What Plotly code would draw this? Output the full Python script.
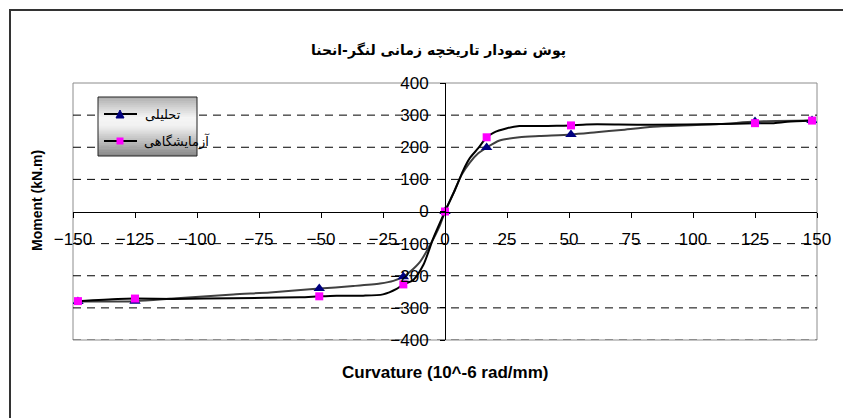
import plotly.graph_objects as go

# ---------------- data ----------------
title_text = "پوش نمودار تاریخچه زمانی لنگر-انحنا"
x_title = "Curvature (10^-6 rad/mm)"
y_title = "Moment (kN.m)"
series_names = ["تحلیلی", "آزمایشگاهی"]

x_ticks = [-150, -125, -100, -75, -50, -25, 0, 25, 50, 75, 100, 125, 150]
y_ticks = [-400, -300, -200, -100, 0, 100, 200, 300, 400]
grid_vals = [-300, -200, -100, 100, 200, 300]

# analytical (تحلیلی) curve
ana_x = [-148, -125, -109.6, -85.4, -70.6, -50.7, -37, -26.2, -20.8, -16.8, -14, -10, -6, -2,
         0, 3.4, 6.7, 10, 13.4, 16.8, 22, 30, 38, 50.8, 61, 71, 84, 111, 125, 148]
ana_y = [-280, -279, -271, -258, -252, -240, -232, -224, -216, -203, -187, -156, -104, -42,
         0, 57, 114, 152, 181, 199, 221, 231, 235, 240, 247, 254, 264, 272, 280, 283]
ana_mx = [-148, -125, -50.7, -16.8, 0, 16.8, 50.8, 125, 148]
ana_my = [-280, -279, -240, -203, 0, 199, 240, 280, 283]

# experimental (آزمایشگاهی) curve
exp_x = [-148, -132, -125, -109.6, -85.4, -58.5, -50.7, -43.7, -33, -25, -19.5, -16.8, -12.8, -8.7, -4.7,
         0, 4, 7.4, 10, 13.4, 16.8, 19.5, 25, 30, 38, 45, 50.8, 57, 70, 84, 111, 125, 132, 138, 148]
exp_y = [-279, -272, -271, -272, -270, -267, -264, -262, -262, -258, -241, -227, -213, -166, -83,
         0, 67, 129, 166, 197, 231, 245, 259, 266, 266, 267, 268, 271, 271, 270, 272, 275, 275, 279, 283]
exp_mx = [-148, -125, -50.7, -16.8, 0, 16.8, 50.8, 125, 148]
exp_my = [-279, -271, -264, -227, 0, 231, 268, 275, 283]

# ---------------- layout geometry ----------------
W, H = 843, 418
L, R, T, B = 73, 817, 83, 340


def px(x):
    return (x - L) / (R - L)


def py(y):
    return (B - y) / (B - T)


fig = go.Figure()

fig.add_trace(go.Scatter(x=ana_x, y=ana_y, mode="lines", line=dict(color="#404040", width=2, shape="spline", smoothing=0.7),
                         showlegend=False, hoverinfo="skip"))
fig.add_trace(go.Scatter(x=exp_x, y=exp_y, mode="lines", line=dict(color="#000000", width=2, shape="spline", smoothing=0.7),
                         showlegend=False, hoverinfo="skip"))
fig.add_trace(go.Scatter(x=ana_mx, y=ana_my, mode="markers", name=series_names[0],
                         marker=dict(symbol="triangle-up", size=10, color="#000080"), showlegend=False))
fig.add_trace(go.Scatter(x=exp_mx, y=exp_my, mode="markers", name=series_names[1],
                         marker=dict(symbol="square", size=8, color="#FF00FF"), showlegend=False))

shapes = []
# outer chart border
shapes.append(dict(type="rect", xref="paper", yref="paper", x0=px(10), x1=px(900), y0=py(10), y1=py(480),
                   line=dict(color="#333333", width=2), layer="below"))
# plot area border
shapes.append(dict(type="rect", xref="paper", yref="paper", x0=0, x1=1, y0=0, y1=1,
                   line=dict(color="#8c8c8c", width=1), layer="below"))
# dashed grid lines
for g in grid_vals:
    shapes.append(dict(type="line", xref="paper", yref="y", x0=0, x1=1, y0=g, y1=g,
                       line=dict(color="#000000", width=1, dash="8px,6px"), layer="below"))
shapes.append(dict(type="line", xref="paper", yref="y", x0=0, x1=1, y0=y_ticks[0], y1=y_ticks[0],
                   line=dict(color="#555555", width=1, dash="8px,6px"), layer="below"))

# legend box with vertical gradient
lx0, lx1, ly0, ly1 = 98, 197, 97, 156
n = 30
stops = [(0.0, 175), (0.35, 245), (0.5, 240), (1.0, 135)]


def grad(t):
    for (t0, c0), (t1, c1) in zip(stops[:-1], stops[1:]):
        if t0 <= t <= t1:
            return c0 + (c1 - c0) * (t - t0) / (t1 - t0)
    return stops[-1][1]


for i in range(n):
    t = (i + 0.5) / n
    c = int(round(grad(t)))
    ya = ly0 + (ly1 - ly0) * i / n
    yb = ly0 + (ly1 - ly0) * (i + 1) / n + 0.6
    shapes.append(dict(type="rect", xref="paper", yref="paper", x0=px(lx0), x1=px(lx1), y0=py(ya), y1=py(min(yb, ly1)),
                       line=dict(width=0), fillcolor=f"rgb({c},{c},{c})"))
shapes.append(dict(type="rect", xref="paper", yref="paper", x0=px(lx0), x1=px(lx1), y0=py(ly0), y1=py(ly1),
                   line=dict(color="#222222", width=1)))
# legend samples
for yy in (114, 141):
    shapes.append(dict(type="line", xref="paper", yref="paper", x0=px(104), x1=px(137), y0=py(yy), y1=py(yy),
                       line=dict(color="#000000", width=2)))
shapes.append(dict(type="path", xref="paper", yref="paper",
                   path=f"M {px(116)} {py(118)} L {px(124)} {py(118)} L {px(120)} {py(110)} Z",
                   fillcolor="#000080", line=dict(color="#000080", width=1)))
shapes.append(dict(type="rect", xref="paper", yref="paper", x0=px(116.5), x1=px(123.5), y0=py(137.5), y1=py(144.5),
                   fillcolor="#FF00FF", line=dict(width=0)))

annotations = [
    dict(text=f"<b>{title_text}</b>", xref="paper", yref="paper", x=px(438), y=py(50), showarrow=False,
         font=dict(family="DejaVu Sans", size=14, color="#000000"), xanchor="center", yanchor="middle"),
    dict(text=f"<b>{x_title}</b>", xref="paper", yref="paper", x=px(445), y=py(372), showarrow=False,
         font=dict(family="Liberation Sans, Arial", size=17, color="#000000"), xanchor="center", yanchor="middle"),
    dict(text=f"<b>{y_title}</b>", xref="paper", yref="paper", x=px(37), y=py(201), showarrow=False, textangle=-90,
         font=dict(family="Liberation Sans, Arial", size=14, color="#000000"), xanchor="center", yanchor="middle"),
    dict(text=series_names[0], xref="paper", yref="paper", x=px(143), y=py(114), showarrow=False,
         font=dict(family="DejaVu Sans", size=13, color="#000000"), xanchor="left", yanchor="middle"),
    dict(text=series_names[1], xref="paper", yref="paper", x=px(142), y=py(141), showarrow=False,
         font=dict(family="DejaVu Sans", size=13, color="#000000"), xanchor="left", yanchor="middle"),
]

fig.update_layout(
    width=W, height=H, autosize=False,
    margin=dict(l=L, r=W - R, t=T, b=H - B, pad=0),
    paper_bgcolor="white", plot_bgcolor="white",
    font=dict(family="Liberation Sans, Arial", size=16, color="#000000"),
    shapes=shapes, annotations=annotations, showlegend=False,
    xaxis=dict(range=[-150, 150], tickvals=x_ticks, showgrid=False, zeroline=False,
               showline=True, linecolor="#000000", linewidth=1,
               anchor="free", position=0.5, ticks="outside", ticklen=5, tickcolor="#000000",
               ticklabelstandoff=7, tickfont=dict(size=17)),
    yaxis=dict(range=[-400, 400], tickvals=y_ticks, showgrid=False, zeroline=False,
               showline=True, linecolor="#000000", linewidth=1,
               anchor="free", position=0.5, ticks="outside", ticklen=5, tickcolor="#000000",
               ticklabelstandoff=8, tickfont=dict(size=17)),
)

fig.write_html("out.html")
